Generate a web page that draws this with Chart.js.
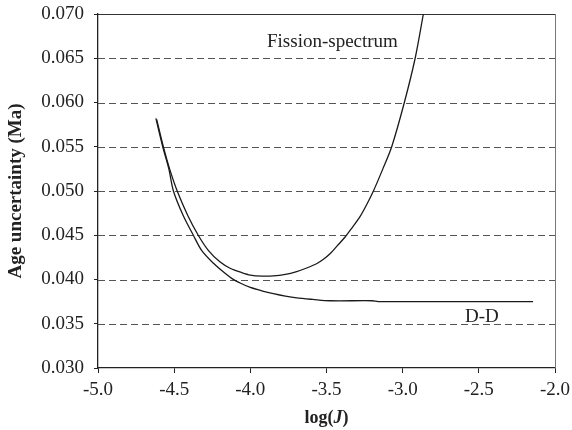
<!DOCTYPE html>
<html>
<head>
<meta charset="utf-8">
<script src="https://cdn.jsdelivr.net/npm/chart.js@4/dist/chart.umd.min.js"></script>
<style>
  html, body { margin: 0; padding: 0; background: #fff; }
  #wrap { width: 572px; height: 430px; }
</style>
</head>
<body>
<div id="wrap"><canvas id="chart" width="572" height="430"></canvas></div>
<script>
const fissionX = [-4.615, -4.571, -4.53, -4.48, -4.41, -4.342, -4.276, -4.20, -4.133, -4.06, -4.0, -3.92, -3.849, -3.77, -3.696, -3.63, -3.565, -3.52, -3.477, -3.43, -3.378, -3.33, -3.28, -3.235, -3.192, -3.13, -3.072, -2.989, -2.918, -2.864];
const fissionY = [0.0581, 0.0550, 0.0525, 0.0500, 0.0472, 0.0450, 0.0433, 0.0420, 0.04127, 0.0408, 0.0405, 0.04038, 0.0404, 0.04058, 0.0409, 0.0413, 0.04178, 0.04228, 0.0429, 0.0438, 0.0448, 0.0459, 0.0471, 0.0485, 0.0500, 0.0525, 0.0550, 0.0600, 0.0650, 0.0700];

const ddX = [-4.62, -4.575, -4.535, -4.505, -4.44, -4.374, -4.32, -4.24, -4.17, -4.12, -4.06, -4.0, -3.92, -3.849, -3.77, -3.696, -3.59, -3.477, -3.20, -3.16, -2.144];
const ddY = [0.0582, 0.0550, 0.0525, 0.0500, 0.0472, 0.0450, 0.0433, 0.0418, 0.04075, 0.0401, 0.03955, 0.0391, 0.0387, 0.0384, 0.03812, 0.03792, 0.03775, 0.0376, 0.0376, 0.0375, 0.0375];

const xTicks = [-5.0, -4.5, -4.0, -3.5, -3.0, -2.5, -2.0];
const yTicks = [0.030, 0.035, 0.040, 0.045, 0.050, 0.055, 0.060, 0.065, 0.070];

const serif = "'Liberation Serif', 'Times New Roman', serif";

function toPoints(xs, ys) {
    return xs.map((x, i) => ({ x: x, y: ys[i] }));
}

// dashed grid, top + right frame, annotations and axis titles
const extras = {
    id: 'extras',
    beforeDatasetsDraw(chart) {
        const { ctx, chartArea: a, scales: { y } } = chart;
        ctx.save();
        ctx.lineWidth = 1;
        ctx.strokeStyle = '#555';
        ctx.setLineDash([7, 4]);
        for (const v of yTicks.slice(1, -1)) {
            const py = Math.round(y.getPixelForValue(v)) + 0.5;
            ctx.beginPath();
            ctx.moveTo(a.left, py);
            ctx.lineTo(a.right, py);
            ctx.stroke();
        }
        ctx.setLineDash([]);
        ctx.strokeStyle = '#333';
        ctx.beginPath();
        ctx.moveTo(a.left, Math.round(a.top) + 0.5);
        ctx.lineTo(a.right, Math.round(a.top) + 0.5);
        ctx.stroke();
        ctx.strokeStyle = '#777';
        ctx.beginPath();
        ctx.moveTo(Math.round(a.right) + 0.5, a.top);
        ctx.lineTo(Math.round(a.right) + 0.5, a.bottom);
        ctx.stroke();
        ctx.restore();
    },
    afterDraw(chart) {
        const { ctx, chartArea: a } = chart;
        ctx.save();
        ctx.fillStyle = '#222';
        ctx.font = '19px ' + serif;
        ctx.textBaseline = 'middle';
        ctx.textAlign = 'left';
        ctx.fillText('Fission-spectrum', 267, 42);
        ctx.fillText('D-D', 465, 317);

        // x title: log(J) with italic J
        const parts = [['bold 18px ', 'log('], ['italic bold 18px ', 'J'], ['bold 18px ', ')']];
        let w = 0;
        for (const [f, t] of parts) { ctx.font = f + serif; w += ctx.measureText(t).width; }
        let cx = (a.left + a.right) / 2 - w / 2;
        for (const [f, t] of parts) {
            ctx.font = f + serif;
            ctx.fillText(t, cx, 418);
            cx += ctx.measureText(t).width;
        }

        // y title
        ctx.translate(16, (a.top + a.bottom) / 2);
        ctx.rotate(-Math.PI / 2);
        ctx.textAlign = 'center';
        ctx.font = 'bold 19px ' + serif;
        ctx.fillText('Age uncertainty (Ma)', 0, 0);
        ctx.restore();
    }
};

new Chart(document.getElementById('chart'), {
    type: 'scatter',
    data: {
        datasets: [
            {
                label: 'Fission-spectrum',
                data: toPoints(fissionX, fissionY),
                showLine: true,
                borderColor: '#1a1a1a',
                borderWidth: 1.3,
                pointRadius: 0,
                tension: 0.3
            },
            {
                label: 'D-D',
                data: toPoints(ddX, ddY),
                showLine: true,
                borderColor: '#1a1a1a',
                borderWidth: 1.3,
                pointRadius: 0,
                tension: 0.3
            }
        ]
    },
    options: {
        responsive: false,
        animation: false,
        devicePixelRatio: 1,
        layout: { padding: { top: 14, right: 17, left: 0, bottom: 0 } },
        plugins: {
            legend: { display: false },
            tooltip: { enabled: false }
        },
        scales: {
            x: {
                type: 'linear',
                min: -5.0,
                max: -2.0,
                afterBuildTicks: (s) => { s.ticks = xTicks.map(v => ({ value: v })); },
                afterFit: (s) => { s.height = 430 - 368; s.paddingLeft = 0; s.paddingRight = 0; },
                ticks: {
                    color: '#222',
                    font: { family: serif, size: 19 },
                    padding: 6,
                    maxRotation: 0,
                    callback: (v) => v.toFixed(1)
                },
                grid: { drawOnChartArea: false, color: '#222', tickLength: 5 },
                border: { display: true, color: '#222', width: 1.3 }
            },
            y: {
                type: 'linear',
                min: 0.030,
                max: 0.070,
                afterBuildTicks: (s) => { s.ticks = yTicks.map(v => ({ value: v })); },
                afterFit: (s) => { s.width = 98; s.paddingTop = 0; s.paddingBottom = 0; },
                ticks: {
                    color: '#222',
                    font: { family: serif, size: 19 },
                    padding: 10,
                    callback: (v) => v.toFixed(3)
                },
                grid: { drawOnChartArea: false, color: '#222', tickLength: 4 },
                border: { display: true, color: '#222', width: 1.3 }
            }
        }
    },
    plugins: [extras]
});
</script>
</body>
</html>
